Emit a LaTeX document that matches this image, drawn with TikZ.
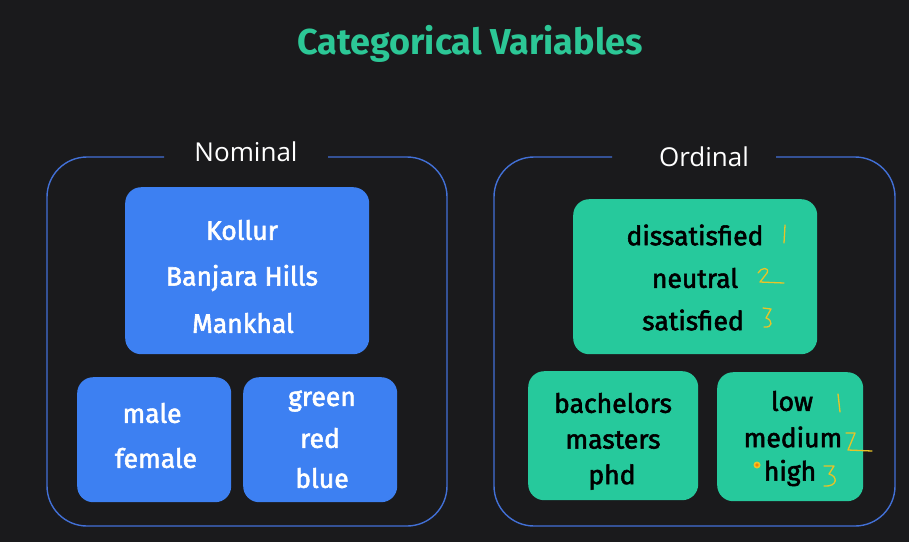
\documentclass[tikz,border=0pt]{standalone}
\usepackage{fontspec}
\setmainfont{Fira Sans}
\newfontfamily\labelfont{Open Sans}
\newcommand{\embtext}[1]{\special{pdf:literal direct 2 Tr 0.55 w}#1\special{pdf:literal direct 0 Tr}}
\definecolor{bg}{RGB}{26,26,28}
\definecolor{titlegreen}{RGB}{44,199,150}
\definecolor{boxblue}{RGB}{61,128,242}
\definecolor{boxgreen}{RGB}{38,201,156}
\definecolor{frameblue}{RGB}{66,112,214}
\definecolor{pen}{RGB}{232,196,40}
\tikzset{
  frame/.style={draw=frameblue, line width=1.4pt, rounded corners=40pt},
  bluebox/.style={fill=boxblue, draw=none, rounded corners=16pt, anchor=north west, inner sep=0pt},
  greenbox/.style={fill=boxgreen, draw=none, rounded corners=16pt, anchor=north west, inner sep=0pt},
  wtxt/.style={text=white, font=\fontsize{26.5}{26.5}\selectfont, inner sep=0pt},
  btxt/.style={text=black, font=\fontsize{26.5}{26.5}\selectfont, inner sep=0pt},
  grouplabel/.style={text=white, font=\labelfont\fontsize{26}{26}\selectfont, inner sep=0pt},
  handwr/.style={draw=pen, line width=1.3pt, line cap=round, line join=round}
}
\begin{document}
\begin{tikzpicture}[x=1pt,y=-1pt]
\fill[bg] (0,0) rectangle (909,542);
\useasboundingbox (0,0) rectangle (909,542);

\node[text=titlegreen, font=\bfseries\fontsize{36}{36}\selectfont, inner sep=0pt] (title) at (470,44) {Categorical Variables};

% Nominal frame
\draw[frame] (328,157) -- (447,157) -- (447,526) -- (47,526) -- (47,157) -- (164,157);
\node[grouplabel] (nominal) at (246,152) {Nominal};

\node[bluebox, minimum width=244pt, minimum height=167pt] (places) at (125,187) {};
\node[wtxt] (kollur) at (242,230) {\embtext{Kollur}};
\node[wtxt] (banjara) at (242,278) {\embtext{Banjara Hills}};
\node[wtxt] (mankhal) at (243,323) {\embtext{Mankhal}};

\node[bluebox, minimum width=154pt, minimum height=125pt] (gender) at (77,377) {};
\node[wtxt] (male) at (152,413) {\embtext{male}};
\node[wtxt] (female) at (156,458) {\embtext{female}};

\node[bluebox, minimum width=154pt, minimum height=125pt] (colours) at (243,377) {};
\node[wtxt] (green) at (322,401) {\embtext{green}};
\node[wtxt] (red) at (320,438) {\embtext{red}};
\node[wtxt] (blue) at (322,478) {\embtext{blue}};

% Ordinal frame
\draw[frame] (776,157) -- (895,157) -- (895,526) -- (494,526) -- (494,157) -- (612,157);
\node[grouplabel] (ordinal) at (704,157) {Ordinal};

\node[greenbox, minimum width=244pt, minimum height=155pt] (satisf) at (573,199) {};
\node[btxt] (dissat) at (695,235) {\embtext{dissatisfied}};
\node[btxt] (neutral) at (695,278) {\embtext{neutral}};
\node[btxt] (sat) at (693,320) {\embtext{satisfied}};

\node[greenbox, minimum width=170pt, minimum height=129pt] (degree) at (528,371) {};
\node[btxt] (bach) at (613,403) {\embtext{bachelors}};
\node[btxt] (mast) at (613,440) {\embtext{masters}};
\node[btxt] (phd) at (612,477) {\embtext{phd}};

\node[greenbox, minimum width=146pt, minimum height=129pt] (level) at (717,372) {};
\node[btxt] (low) at (792,401) {\embtext{low}};
\node[btxt] (medium) at (793,437) {\embtext{medium}};
\node[btxt] (high) at (790,473) {\embtext{high}};

% handwritten numbers
\draw[handwr] (785,225) -- (784,243);
\draw[handwr] (758,273) .. controls (761,267) and (770,267) .. (767,273) -- (760,282) -- (784,283);
\draw[handwr] (763,308) -- (771,309) -- (766,318) .. controls (773,320) and (773,328) .. (764,327);

\draw[handwr] (838,394) -- (840,412);
\draw[handwr] (846,433) -- (855,433) -- (848,450) -- (872,451);
\draw[handwr] (824,466) -- (834,466) -- (829,474) .. controls (838,476) and (838,487) .. (824,486);

\fill[pen] (757,465) circle (3.5pt);
\fill[orange] (757,465) circle (1.8pt);
\end{tikzpicture}
\end{document}
